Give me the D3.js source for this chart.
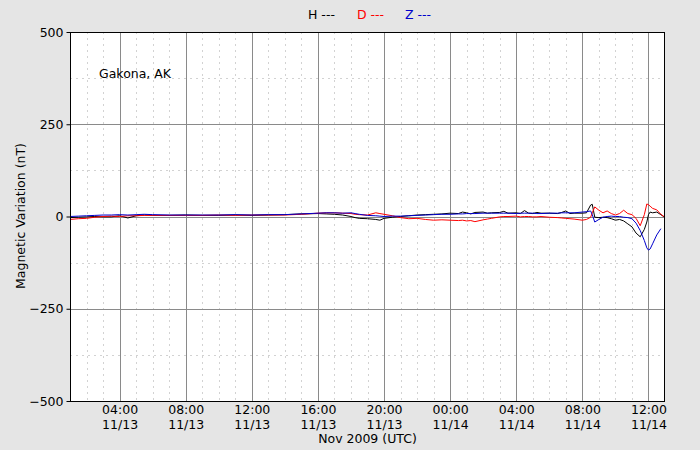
<!DOCTYPE html>
<html><head><meta charset="utf-8">
<script src="https://cdn.jsdelivr.net/npm/d3@7/dist/d3.min.js"></script>
<style>
body{margin:0;background:#e5e5e5}
svg{display:block}
text{font-family:"DejaVu Sans",sans-serif;font-size:12.5px}
</style>
</head><body>
<svg id="chart" width="700" height="450"></svg>
<script>
// hours since 2009-11-13 00:00 UTC
const hours = [1,1.5,2,2.5,3,3.5,4,4.5,5,5.5,6,7,8,9,10,11,12,13,14,15,16,16.5,17,17.5,18,18.25,18.5,19,19.5,19.75,20,20.5,21,21.5,22,22.5,23,23.5,
  24,24.5,24.75,25,25.25,25.5,26,26.25,26.5,27,27.25,27.5,28,28.25,28.5,28.75,29,29.25,29.5,30,30.5,30.75,31,31.25,31.5,32,
  32.25,32.5,32.6,32.75,33,33.25,33.5,33.75,34,34.25,34.5,34.75,35,35.25,35.5,35.75,35.9,36,36.1,36.25,36.5,36.75,37];
const H = [-3,-2,-1,0,-1,-1,2,-4,2,4,3,3,4,3,3,4,3,4,5,7,8,7,6,4,0,-3,-5,-6,-8,-10,-5,-2,0,2,4,5,6,7,
  9,8,12,10,7,11,12,9,10,11,14,9,10,8,16,9,8,11,9,9,8,11,15,8,9,9,
  10,31,33,-2,-3,-2,-3,-6,-10,-8,-12,-20,-28,-45,-55,-35,-15,5,12,10,12,5,-3];
const D = [-8,-6,-5,-2,0,1,0,2,2,3,3,3,3,3,4,3,4,4,4,6,9,10,10,9,8,6,5,4,10,8,6,2,-3,-6,-5,-8,-10,-9,
  -10,-11,-10,-12,-11,-14,-9,-7,-5,-1,0,0,1,-1,0,0,-1,-1,0,-2,-3,-4,-5,-6,-7,-10,
  -8,-2,10,26,17,10,15,8,4,8,17,8,5,-5,-25,5,34,32,28,22,18,6,-2];
const Z = [0,1,2,3,4,4,5,4,5,6,5,4,4,4,4,5,4,5,5,7,9,10,10,9,10,8,6,3,2,1,0,1,1,2,3,4,5,6,
  6,7,7,8,8,8,9,9,9,9,9,9,8,9,9,9,9,8,8,9,9,10,10,10,10,12,
  13,15,5,-15,-8,-2,0,1,0,0,-2,-3,-6,-18,-38,-65,-85,-91,-88,-74,-50,-33,null];
const seriesNames = ["H","D","Z"];
const seriesColors = ["#000000","#ff0000","#0000cc"];
const yTicks = [-500,-250,0,250,500];
const yMinor = [-375,-125,125,375];
const xMajorHours = [4,8,12,16,20,24,28,32,36];
const xLabel = "Nov 2009 (UTC)";
const yLabel = "Magnetic Variation (nT)";
const station = "Gakona, AK";

const svg = d3.select("#chart");
const L=70,R=665,T=32,B=401;
const t0 = Date.UTC(2009,10,13,0);
const toDate = h => new Date(t0 + h*3600000);
const x = d3.scaleUtc().domain([toDate(1),toDate(37)]).range([L,R]);
const y = d3.scaleLinear().domain([-500,500]).range([B,T]);

svg.append("rect").attr("x",L).attr("y",T).attr("width",R-L).attr("height",B-T).attr("fill","#fff");

const grid = svg.append("g");
const minorHours = d3.range(2,37).filter(h=>h%4!==0);
grid.selectAll("line.vm").data(minorHours).enter().append("line")
  .attr("x1",d=>Math.round(x(toDate(d)))+0.5).attr("x2",d=>Math.round(x(toDate(d)))+0.5)
  .attr("y1",T).attr("y2",B).attr("stroke","#d2d2d2").attr("stroke-dasharray","2,4");
grid.selectAll("line.hm").data(yMinor).enter().append("line")
  .attr("y1",d=>Math.round(y(d))+0.5).attr("y2",d=>Math.round(y(d))+0.5)
  .attr("x1",L).attr("x2",R).attr("stroke","#d2d2d2").attr("stroke-dasharray","2,4");
grid.selectAll("line.vM").data(xMajorHours).enter().append("line")
  .attr("x1",d=>Math.round(x(toDate(d)))+0.5).attr("x2",d=>Math.round(x(toDate(d)))+0.5)
  .attr("y1",T).attr("y2",B).attr("stroke","#8a8a8a");
grid.selectAll("line.hM").data(yTicks.filter(d=>Math.abs(d)<500)).enter().append("line")
  .attr("y1",d=>Math.round(y(d))+0.5).attr("y2",d=>Math.round(y(d))+0.5)
  .attr("x1",L).attr("x2",R).attr("stroke","#8a8a8a");

svg.append("clipPath").attr("id","clp").append("rect")
  .attr("x",L).attr("y",T).attr("width",R-L).attr("height",B-T);

const seriesData = [H,D,Z];
const line = d3.line().defined(d=>d[1]!==null).x(d=>x(toDate(d[0]))).y(d=>y(d[1]));
const lines = svg.append("g").attr("clip-path","url(#clp)");
seriesData.forEach((s,i)=>{
  lines.append("path").datum(hours.map((h,j)=>[h,s[j]]))
    .attr("d",line).attr("fill","none").attr("stroke",seriesColors[i]).attr("stroke-width",1);
});

svg.append("rect").attr("x",L+0.5).attr("y",T+0.5).attr("width",R-L-1).attr("height",B-T).attr("fill","none").attr("stroke","#000");

const yAxis = d3.axisLeft(y).tickValues(yTicks).tickSize(4).tickPadding(3)
  .tickFormat(d=>d<0?"\u2212"+Math.abs(d):String(d));
const ya = svg.append("g").attr("transform",`translate(${L+0.5},0)`).call(yAxis);
ya.select(".domain").remove();
ya.selectAll("text").style("font-size","12.5px").style("font-family","DejaVu Sans").attr("fill","#000");

const xAxis = d3.axisBottom(x).tickValues(xMajorHours.map(toDate)).tickSize(0).tickPadding(0).tickFormat(()=> "");
const xa = svg.append("g").attr("transform",`translate(0,${B})`).call(xAxis);
xa.select(".domain").remove();
const fmtT = d3.utcFormat("%H:%M"), fmtD = d3.utcFormat("%m/%d");
xa.selectAll(".tick text").each(function(d){
  const t = d3.select(this).text(null).attr("y",0).attr("dy",null);
  t.append("tspan").attr("x",0).attr("y",13).text(fmtT(d));
  t.append("tspan").attr("x",0).attr("y",28).text(fmtD(d));
}).style("font-size","12.5px").style("font-family","DejaVu Sans").attr("fill","#000");

svg.append("text").attr("x",(L+R)/2).attr("y",443).attr("text-anchor","middle").text(xLabel);
svg.append("text").attr("transform","translate(25,216) rotate(-90)").attr("text-anchor","middle").text(yLabel);
svg.append("text").attr("x",99).attr("y",78).text(station);

seriesNames.forEach((n,i)=>{
  svg.append("text").attr("x",[308,357,405][i]).attr("y",19).attr("fill",seriesColors[i]).text(n+" ---");
});
</script>
</body></html>
